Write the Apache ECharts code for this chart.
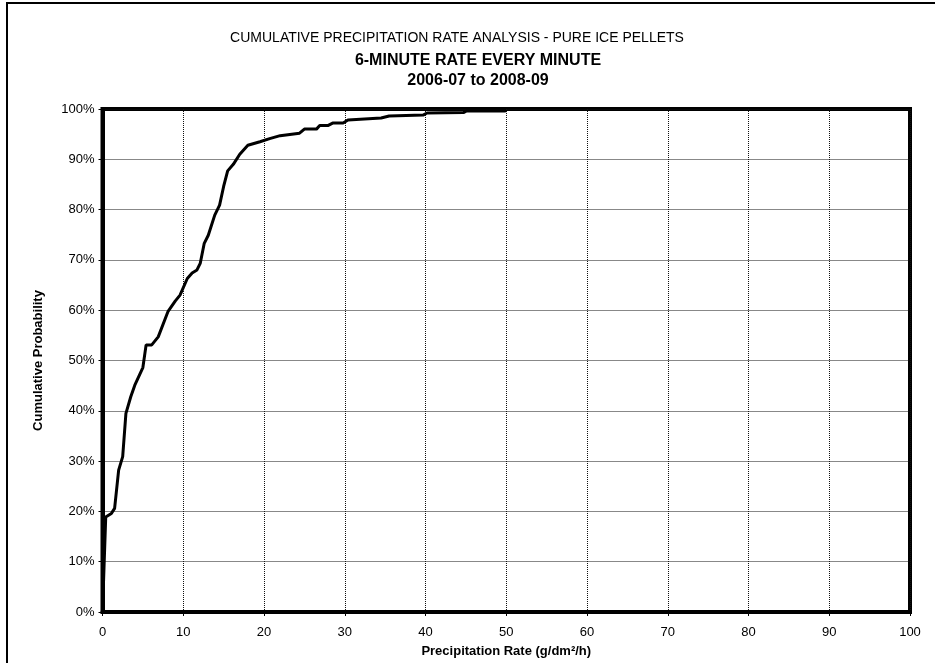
<!DOCTYPE html>
<html>
<head>
<meta charset="utf-8">
<script src="https://cdn.jsdelivr.net/npm/echarts@6/dist/echarts.min.js"></script>
<style>
  html, body { margin: 0; padding: 0; background: #fff; }
  #chart { width: 935px; height: 663px; }
</style>
</head>
<body>
<div id="chart"></div>
<script>
// Precipitation rate (g/dm²/h) and cumulative probability (%)
const rates = [0, 0.4, 1.1, 1.5, 2.0, 2.5, 2.9, 3.5, 4.0, 5.0, 5.4, 6.1, 6.9, 8.1, 9.0, 9.6,
  10.5, 11.1, 11.7, 12.1, 12.6, 13.1, 13.9, 14.5, 15.0, 15.5, 16.2, 17.0, 18.0, 19.5,
  20.7, 22.0, 24.4, 25.0, 26.5, 26.9, 27.9, 28.5, 29.8, 30.4, 34.5, 35.5, 39.7, 40.2,
  44.7, 45.1, 49.8, 50.0];
const cumulative = [0, 18.9, 19.6, 20.6, 28.2, 30.9, 39.5, 42.8, 45.1, 48.6, 53.1, 53.1, 54.7, 59.7, 61.8, 63.0,
  66.3, 67.4, 68.0, 69.3, 73.3, 74.9, 78.9, 80.9, 84.6, 87.7, 89.0, 91.0, 92.8, 93.5,
  94.1, 94.7, 95.2, 96.0, 96.0, 96.7, 96.7, 97.2, 97.2, 97.8, 98.2, 98.6, 98.8, 99.2,
  99.3, 99.6, 99.6, 99.7];

const titleMain = 'CUMULATIVE PRECIPITATION RATE ANALYSIS - PURE ICE PELLETS';
const titleSub = '6-MINUTE RATE EVERY MINUTE';
const titlePeriod = '2006-07 to 2008-09';
const xName = 'Precipitation Rate (g/dm²/h)';
const yName = 'Cumulative Probability';

const font = '"Liberation Sans", Arial, sans-serif';
const chart = echarts.init(document.getElementById('chart'), null, { renderer: 'canvas' });

chart.setOption({
  animation: false,
  backgroundColor: '#fff',
  graphic: [
    { type: 'rect', shape: { x: 7, y: 3, width: 1000, height: 1000 },
      style: { fill: 'none', stroke: '#000', lineWidth: 2 }, z: 0 },
    { type: 'text', x: 457, y: 38, style: { text: titleMain, font: '14px ' + font,
      fill: '#000', textAlign: 'center', textVerticalAlign: 'middle' } },
    { type: 'text', x: 478, y: 61, style: { text: titleSub, font: 'bold 16px ' + font,
      fill: '#000', textAlign: 'center', textVerticalAlign: 'middle' } },
    { type: 'text', x: 478, y: 81, style: { text: titlePeriod, font: 'bold 16px ' + font,
      fill: '#000', textAlign: 'center', textVerticalAlign: 'middle' } }
  ],
  grid: {
    left: 102.5, right: 25, top: 109, bottom: 51,
    show: true, borderColor: '#000', borderWidth: 4, backgroundColor: 'transparent',
    containLabel: false
  },
  xAxis: {
    type: 'value', min: 0, max: 100, interval: 10,
    name: xName, nameLocation: 'middle', nameGap: 33,
    nameTextStyle: { fontFamily: font, fontSize: 13, fontWeight: 'bold', color: '#000' },
    axisLine: { show: true, lineStyle: { color: '#000', width: 4 } },
    axisTick: { show: true, length: 4, lineStyle: { color: '#000', width: 1 } },
    axisLabel: { fontFamily: font, fontSize: 13, color: '#000', margin: 14 },
    splitLine: { show: true, lineStyle: { color: '#111', width: 1, type: [1, 1] } }
  },
  yAxis: {
    type: 'value', min: 0, max: 100, interval: 10,
    name: yName, nameLocation: 'middle', nameGap: 58, nameRotate: 90,
    nameTextStyle: { fontFamily: font, fontSize: 13, fontWeight: 'bold', color: '#000' },
    axisLine: { show: true, lineStyle: { color: '#000', width: 4 } },
    axisTick: { show: true, length: 4, lineStyle: { color: '#000', width: 1 } },
    axisLabel: { fontFamily: font, fontSize: 13, color: '#000', margin: 8,
      formatter: v => v + '%' },
    splitLine: { show: true, lineStyle: { color: '#111', width: 1, type: [1, 1] } }
  },
  series: [{
    type: 'line',
    data: rates.map((r, i) => [r, cumulative[i]]),
    showSymbol: false,
    lineStyle: { color: '#000', width: 3 },
    z: 3
  }]
});
</script>
</body>
</html>
